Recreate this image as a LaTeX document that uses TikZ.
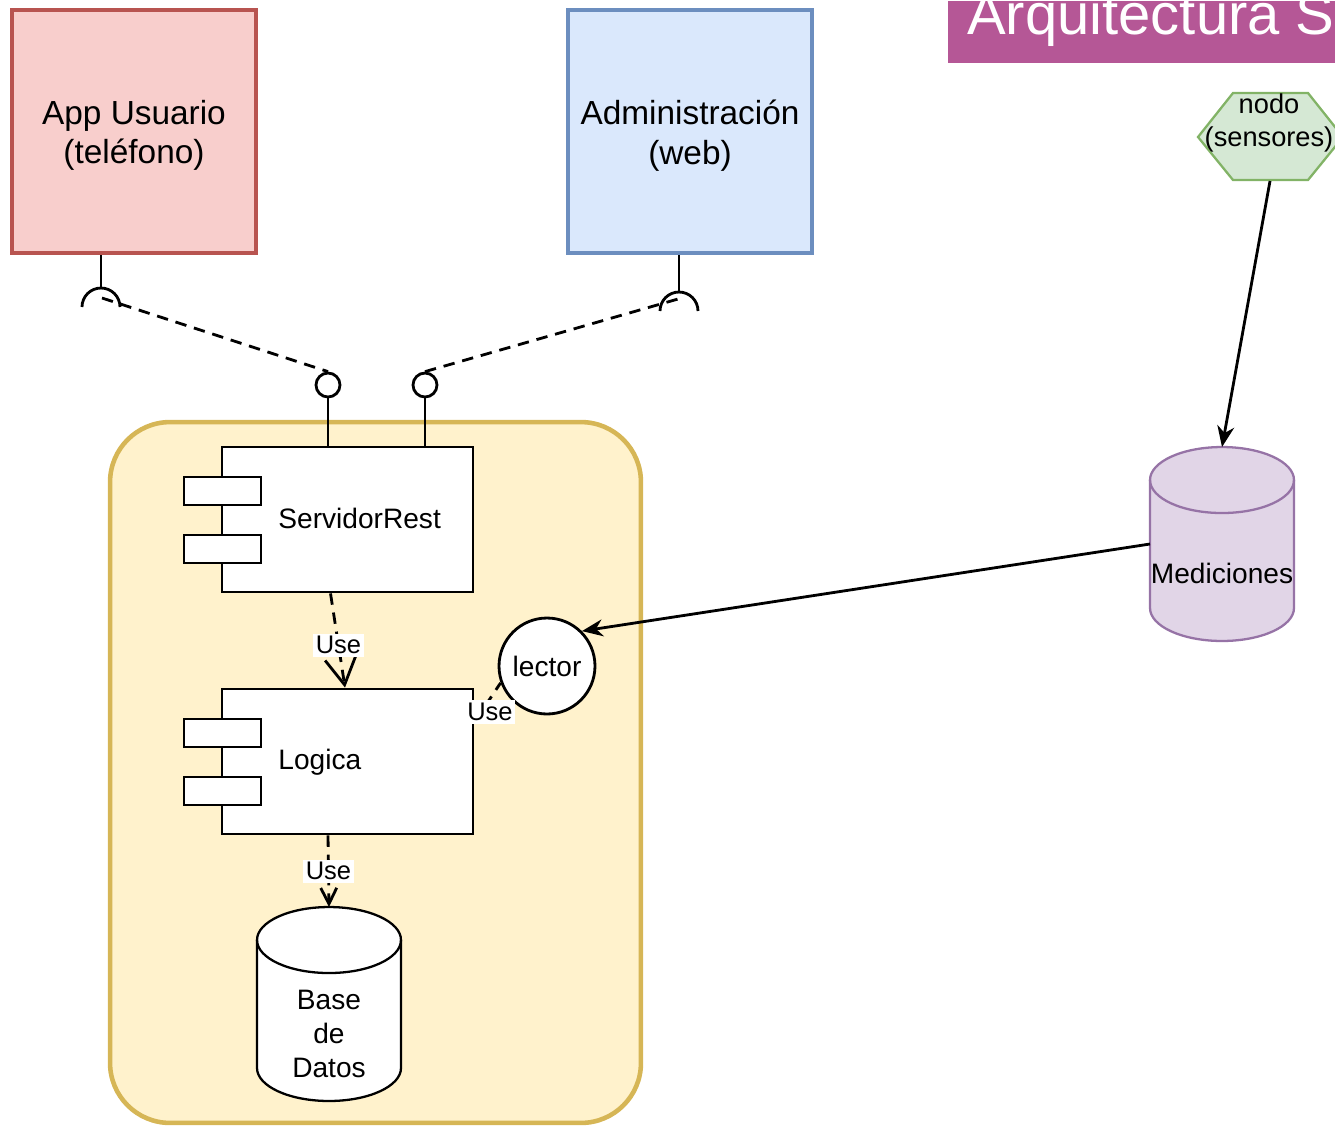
\documentclass[tikz,border=0pt]{standalone}
\usepackage{fontspec}
\setmainfont{Liberation Sans}
\usetikzlibrary{shapes.geometric, arrows.meta, positioning}

\definecolor{appfill}{HTML}{F8CECC}
\definecolor{appline}{HTML}{B85450}
\definecolor{webfill}{HTML}{DAE8FC}
\definecolor{webline}{HTML}{6C8EBF}
\definecolor{grpfill}{HTML}{FFF2CC}
\definecolor{grpline}{HTML}{D6B656}
\definecolor{hexfill}{HTML}{D5E8D4}
\definecolor{hexline}{HTML}{82B366}
\definecolor{medfill}{HTML}{E1D5E7}
\definecolor{medline}{HTML}{9673A6}
\definecolor{titlefill}{HTML}{B55796}

\begin{document}
\begin{tikzpicture}[x=0.02cm, y=-0.02cm, line width=1.6pt,
    clientbox/.style={draw, line width=2.3pt, minimum width=4.88cm, minimum height=4.86cm},
    clienttext/.style={font=\fontsize{19}{22.5}\selectfont, align=center, yshift=-0.08cm},
    compbox/.style={draw, fill=white, minimum width=5.02cm, minimum height=2.9cm},
    compport/.style={draw, fill=white, minimum width=1.54cm, minimum height=0.56cm},
    dbbox/.style={rectangle, inner sep=0pt, outer sep=0pt, minimum width=2.88cm, minimum height=3.88cm},
    lolli/.style={circle, draw, fill=white, minimum size=0.48cm, inner sep=0pt},
    uselabel/.style={fill=white, inner sep=1.5pt, font=\fontsize{14.5}{16}\selectfont},
    uses/.style={dash pattern=on 6.5pt off 4.5pt},
    flecha/.style={-{Stealth[length=0.42cm, width=0.34cm]}},
    txt/.style={font=\fontsize{16}{19}\selectfont, align=center}]
    \useasboundingbox (0,0) rectangle (1335,1127);

    % Title bar
    \node[fill=titlefill, anchor=north west, minimum width=8cm, minimum height=1.24cm] (titlebar) at (947,0) {};
    \node[anchor=base west, text=white, font=\fontsize{33}{36}\selectfont] (titletext) at (960,34) {Arquitectura S};

    % Clients
    \node[clientbox, fill=appfill, draw=appline, label={[clienttext]center:App Usuario\\(teléfono)}] (app) at (134,131.5) {};
    \node[clientbox, fill=webfill, draw=webline, label={[clienttext]center:Administración\\(web)}] (web) at (690,131.5) {};

    % Backend group
    \node[draw=grpline, fill=grpfill, line width=2.6pt, rounded corners=1.2cm, minimum width=10.62cm, minimum height=14.02cm] (backend) at (375.5,772.5) {};

    % Components
    \node[compbox] (servidor) at (347.5,519.5) {};
    \node[compport] (srvport1) at (222.5,491) {};
    \node[compport] (srvport2) at (222.5,549) {};
    \node[txt, anchor=west, inner xsep=0pt] (srvtext) at (277,518) {ServidorRest};

    \node[compbox] (logica) at (347.5,761.5) {};
    \node[compport] (logport1) at (222.5,733) {};
    \node[compport] (logport2) at (222.5,791) {};
    \node[txt, anchor=west, inner xsep=0pt] (logtext) at (277,762) {Logica};

    \node[circle, draw, fill=white, minimum size=1.92cm, inner sep=0pt, txt] (lector) at (547,666) {lector};

    % Databases
    \node[dbbox] (basedatos) at (329,1004) {};
    \node[dbbox] (medic) at (1222,544) {};
    \foreach \cyl/\cfill/\cline in {basedatos/white/black, medic/medfill/medline} {
        \draw[fill=\cfill, draw=\cline, line width=1.3pt]
            ([yshift=-0.66cm]\cyl.north west) -- ([yshift=0.66cm]\cyl.south west)
            arc[start angle=180, end angle=360, x radius=1.44cm, y radius=0.66cm]
            -- ([yshift=-0.66cm]\cyl.north east)
            arc[start angle=0, end angle=180, x radius=1.44cm, y radius=0.66cm] -- cycle;
        \draw[draw=\cline, line width=1.3pt] ([yshift=-0.66cm]\cyl.north west)
            arc[start angle=180, end angle=360, x radius=1.44cm, y radius=0.66cm];
    }
    \node[txt, font=\fontsize{16}{19.3}\selectfont] (dbtext) at (329,1034) {Base\\de\\Datos};
    \node[txt] (medtext) at (1222,573) {Mediciones};

    % Provided interfaces
    \node[lolli] (lolliA) at (328,385) {};
    \node[lolli] (lolliB) at (425,385) {};
    \draw (lolliA |- servidor.north) -- (lolliA);
    \draw (lolliB |- servidor.north) -- (lolliB);

    % Required interfaces
    \coordinate (sockA) at (101,307);
    \coordinate (sockB) at (679,311);
    \draw (app.south -| sockA) -- ([yshift=0.38cm]sockA);
    \draw ([xshift=-0.38cm]sockA) arc[start angle=180, end angle=0, radius=0.38cm];
    \draw (web.south -| sockB) -- ([yshift=0.38cm]sockB);
    \draw ([xshift=-0.38cm]sockB) arc[start angle=180, end angle=0, radius=0.38cm];
    \draw[uses] ([xshift=0.02cm, yshift=0.18cm]sockA) -- (lolliA.north);
    \draw[uses] (lolliB.north) -- ([xshift=0.12cm, yshift=0.28cm]sockB);

    % Uses
    \draw[uses, -{Straight Barb[length=0.54cm, width=0.62cm]}] ([xshift=-0.34cm]servidor.south) -- ([xshift=-0.05cm]logica.north) node[uselabel, pos=0.55] (use1) {Use};
    \draw[uses, -{Straight Barb[length=0.32cm, width=0.32cm]}] ([xshift=-0.39cm]logica.south) -- (basedatos.north) node[uselabel, pos=0.5] (use2) {Use};
    \draw[uses] ([yshift=0.79cm]logica.east) -- (lector.200);
    \node[uselabel] (use3) at (490,712) {Use};

    % Sensors
    \draw[draw=hexline, fill=hexfill, line width=1.3pt] (1198,137) -- (1233,93) -- (1308,93) -- (1343,137) -- (1308,180) -- (1233,180) -- cycle;
    \node[txt, font=\fontsize{15.5}{18.5}\selectfont] (sensores) at (1269,123) {nodo\\(sensores)};
    \coordinate (hexbot) at (1270,181);

    \draw[flecha] (hexbot) -- (medic.north);
    \draw[flecha] (medic.west) -- (lector.north east);
\end{tikzpicture}
\end{document}
